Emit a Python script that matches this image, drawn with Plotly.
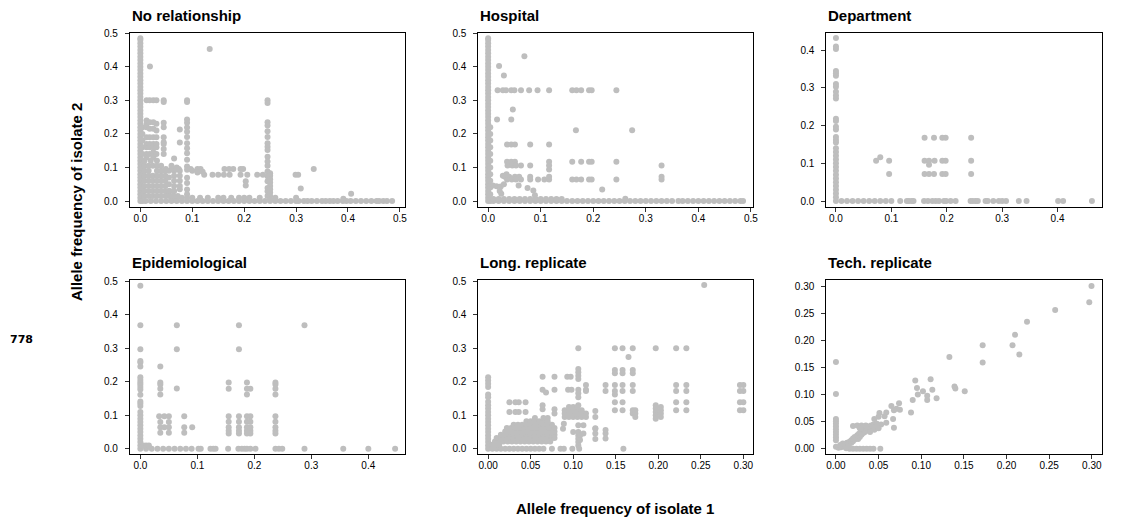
import plotly.graph_objects as go

# ---------------- data ----------------
# Each panel: columns (x, [y...]), rows (y, [x...]) and single points (x, y)

nr_cols = [
    (0.0, [0.0, 0.01, 0.02, 0.03, 0.04, 0.05, 0.06, 0.07, 0.08, 0.09, 0.10, 0.11, 0.12, 0.13, 0.14, 0.15,
           0.16, 0.17, 0.18, 0.19, 0.20, 0.21, 0.22, 0.23, 0.24, 0.25, 0.26, 0.27, 0.28, 0.29, 0.30, 0.31,
           0.32, 0.33, 0.34, 0.35, 0.36, 0.37, 0.38, 0.39, 0.40, 0.41, 0.42, 0.43, 0.44, 0.45, 0.46, 0.47,
           0.48, 0.485]),
    (0.004, [0.0, 0.02, 0.04, 0.06, 0.08, 0.10, 0.12, 0.14, 0.16, 0.18, 0.20, 0.22]),
    (0.012, [0.30, 0.24, 0.23, 0.22, 0.19, 0.17, 0.16, 0.14, 0.13]),
    (0.018, [0.30, 0.235, 0.215, 0.19, 0.17, 0.16, 0.14]),
    (0.025, [0.30, 0.235, 0.215, 0.19, 0.17, 0.16, 0.145, 0.13]),
    (0.031, [0.30, 0.23, 0.21, 0.19, 0.17, 0.16, 0.14]),
    (0.045, [0.30, 0.295, 0.233, 0.22, 0.19, 0.175, 0.17, 0.155, 0.14]),
    (0.055, [0.09, 0.07, 0.05, 0.03, 0.02]),
    (0.065, [0.127, 0.09, 0.075, 0.06, 0.045, 0.03]),
    (0.076, [0.213, 0.174, 0.09, 0.075, 0.06, 0.045, 0.035]),
    (0.09, [0.30, 0.295, 0.243, 0.233, 0.219, 0.206, 0.191, 0.172, 0.157, 0.142, 0.123, 0.103, 0.093,
            0.069, 0.054, 0.034, 0.02]),
    (0.203, [0.059, 0.046]),
    (0.245, [0.30, 0.292, 0.235, 0.225, 0.208, 0.191, 0.172, 0.162, 0.152, 0.132, 0.118, 0.105, 0.088,
             0.074, 0.059, 0.039, 0.029, 0.015]),
    (0.25, [0.083, 0.075, 0.065, 0.055, 0.045, 0.035, 0.025, 0.015, 0.005]),
]
nr_rows = [
    (0.0, [0.01, 0.02, 0.03, 0.04, 0.05, 0.06, 0.07, 0.08, 0.09, 0.10, 0.11, 0.12, 0.13, 0.14, 0.15, 0.16,
           0.17, 0.18, 0.19, 0.20, 0.21, 0.22, 0.23, 0.24, 0.25, 0.26, 0.27, 0.28, 0.29, 0.30, 0.305, 0.315,
           0.322, 0.33, 0.34, 0.35, 0.357, 0.365, 0.372, 0.38, 0.39, 0.397, 0.405, 0.415, 0.425, 0.435,
           0.445, 0.455, 0.46, 0.468, 0.475, 0.485]),
    (0.01, [0.06, 0.07, 0.08, 0.09, 0.10, 0.115, 0.13, 0.15, 0.16, 0.175, 0.19, 0.20, 0.21, 0.23, 0.26, 0.30]),
    (0.015, [0.008, 0.016, 0.024, 0.032, 0.040, 0.048, 0.056, 0.064, 0.072]),
    (0.03, [0.008, 0.016, 0.024, 0.032, 0.040, 0.048, 0.056, 0.064]),
    (0.045, [0.008, 0.016, 0.024, 0.032, 0.040, 0.048]),
    (0.06, [0.008, 0.016, 0.024, 0.032, 0.040, 0.048]),
    (0.075, [0.008, 0.016, 0.024, 0.032, 0.040, 0.048]),
    (0.09, [0.008, 0.016, 0.032, 0.040, 0.048]),
    (0.105, [0.008, 0.016, 0.024, 0.032, 0.040]),
    (0.12, [0.008, 0.020, 0.032]),
    (0.095, [0.049, 0.062, 0.074, 0.097, 0.110, 0.116, 0.162, 0.171, 0.179, 0.193, 0.198, 0.334]),
    (0.078, [0.123, 0.139, 0.150, 0.161, 0.172, 0.193, 0.206, 0.225, 0.236, 0.299, 0.304]),
]
nr_pts = [(0.1336, 0.453), (0.0185, 0.401), (0.309, 0.037), (0.406, 0.022), (0.391, 0.007),
          (0.06, 0.105), (0.07, 0.10), (0.10, 0.09), (0.11, 0.085), (0.12, 0.087)]

hosp_cols = [
    (0.0, [0.0, 0.01, 0.02, 0.03, 0.04, 0.05, 0.06, 0.07, 0.08, 0.09, 0.10, 0.11, 0.12, 0.13, 0.14, 0.15,
           0.16, 0.17, 0.18, 0.19, 0.20, 0.21, 0.22, 0.23, 0.24, 0.25, 0.26, 0.27, 0.28, 0.29, 0.30, 0.31,
           0.32, 0.33, 0.34, 0.35, 0.36, 0.37, 0.38, 0.39, 0.40, 0.41, 0.42, 0.43, 0.44, 0.45, 0.46, 0.47,
           0.48, 0.485]),
    (0.004, [0.0, 0.02, 0.04, 0.06, 0.08, 0.10, 0.12, 0.14, 0.16, 0.18, 0.20, 0.22]),
]
hosp_rows = [
    (0.0, [0.01, 0.02, 0.03, 0.04, 0.05, 0.06, 0.07, 0.08, 0.09, 0.10, 0.11, 0.12, 0.13, 0.14, 0.15, 0.16,
           0.17, 0.18, 0.19, 0.20, 0.21, 0.22, 0.23, 0.24, 0.25, 0.26, 0.27, 0.28, 0.29, 0.30, 0.31, 0.32,
           0.33, 0.34, 0.35, 0.362, 0.37, 0.38, 0.39, 0.40, 0.41, 0.42, 0.43, 0.44, 0.45, 0.46, 0.47,
           0.48, 0.485]),
    (0.006, [0.01, 0.02, 0.03, 0.04, 0.05, 0.06, 0.07, 0.08, 0.09, 0.10, 0.11, 0.12, 0.13, 0.14]),
    (0.33, [0.018, 0.028, 0.034, 0.044, 0.050, 0.0625, 0.078, 0.094, 0.116, 0.160, 0.168, 0.177, 0.192,
            0.197, 0.244]),
    (0.168, [0.036, 0.044, 0.051, 0.080, 0.116]),
    (0.117, [0.036, 0.044, 0.051, 0.116, 0.160, 0.177, 0.192, 0.197, 0.244]),
    (0.106, [0.037, 0.046, 0.053, 0.0625, 0.080, 0.116, 0.330]),
    (0.072, [0.032, 0.040, 0.051, 0.059, 0.080, 0.116, 0.330]),
    (0.064, [0.036, 0.045, 0.053, 0.0625, 0.080, 0.095, 0.107, 0.116, 0.160, 0.168, 0.177, 0.192, 0.197,
             0.244, 0.330]),
]
hosp_pts = [(0.069, 0.431), (0.0208, 0.402), (0.030, 0.374), (0.047, 0.273), (0.017, 0.243),
            (0.044, 0.243), (0.167, 0.211), (0.274, 0.211), (0.116, 0.094), (0.058, 0.046), (0.075, 0.039),
            (0.086, 0.031), (0.217, 0.034), (0.009, 0.046), (0.016, 0.044), (0.024, 0.043), (0.022, 0.03),
            (0.025, 0.022), (0.089, 0.017), (0.261, 0.007), (0.03, 0.05), (0.028, 0.075), (0.035, 0.08)]

dept_cols = [
    (0.0, [0.0, 0.01, 0.02, 0.03, 0.04, 0.05, 0.06, 0.07, 0.08, 0.09, 0.10, 0.11, 0.12, 0.13, 0.14, 0.155,
           0.162, 0.17, 0.19, 0.197, 0.212, 0.218, 0.272, 0.28, 0.29, 0.303, 0.31, 0.332, 0.339, 0.345,
           0.403, 0.41, 0.432]),
]
dept_rows = [
    (0.0, [0.01, 0.02, 0.03, 0.04, 0.05, 0.06, 0.07, 0.08, 0.09, 0.10, 0.116, 0.128, 0.132, 0.137, 0.140,
           0.159, 0.166, 0.174, 0.180, 0.186, 0.195, 0.199, 0.207, 0.216, 0.243, 0.247, 0.252, 0.256,
           0.270, 0.274, 0.284, 0.294, 0.300, 0.307, 0.330, 0.344, 0.401, 0.410, 0.462]),
    (0.168, [0.160, 0.177, 0.192, 0.198, 0.244]),
    (0.107, [0.0725, 0.096, 0.160, 0.168, 0.178, 0.192, 0.198, 0.244]),
    (0.072, [0.096, 0.160, 0.168, 0.177, 0.192, 0.198, 0.244]),
]
dept_pts = [(0.080, 0.116), (0.168, 0.096)]

epi_cols = [
    (0.0, [0.0, 0.01, 0.02, 0.03, 0.04, 0.05, 0.06, 0.07, 0.08, 0.09, 0.10, 0.11, 0.128, 0.135, 0.141,
           0.161, 0.177, 0.184, 0.192, 0.198, 0.205, 0.213, 0.245, 0.257, 0.262, 0.297, 0.368, 0.486]),
    (0.035, [0.245, 0.198, 0.192, 0.179, 0.162]),
    (0.155, [0.198, 0.179, 0.097, 0.081, 0.064, 0.054, 0.046]),
    (0.173, [0.368, 0.297, 0.097, 0.081, 0.064, 0.054, 0.046]),
    (0.187, [0.198, 0.179, 0.162, 0.097, 0.081, 0.064, 0.054, 0.046]),
    (0.193, [0.179, 0.097, 0.081, 0.064, 0.054, 0.046]),
    (0.237, [0.198, 0.192, 0.179, 0.162, 0.097, 0.081, 0.064, 0.054, 0.046]),
]
epi_rows = [
    (0.0, [0.01, 0.02, 0.03, 0.04, 0.05, 0.06, 0.07, 0.08, 0.09, 0.102, 0.106, 0.123, 0.128, 0.132, 0.154,
           0.172, 0.178, 0.183, 0.187, 0.193, 0.202, 0.237, 0.243, 0.249, 0.288, 0.356, 0.40, 0.447]),
    (0.01, [0.005, 0.01, 0.015]),
    (0.097, [0.033, 0.042, 0.05, 0.077]),
    (0.08, [0.035, 0.05]),
    (0.064, [0.035, 0.042, 0.05, 0.077, 0.091]),
    (0.048, [0.035, 0.05, 0.077]),
]
epi_pts = [(0.064, 0.368), (0.288, 0.368), (0.064, 0.297), (0.064, 0.18)]

long_cols = [
    (0.0, [0.0, 0.01, 0.02, 0.03, 0.04, 0.05, 0.06, 0.07, 0.08, 0.09, 0.10, 0.11, 0.12, 0.13, 0.14, 0.154,
           0.162, 0.184, 0.194, 0.204, 0.213]),
    (0.106, [0.30, 0.238, 0.228, 0.218, 0.208, 0.176, 0.166, 0.154, 0.13, 0.07, 0.05, 0.04, 0.03, 0.02, 0.01]),
    (0.126, [0.113, 0.095, 0.061, 0.046, 0.029]),
    (0.138, [0.19, 0.172, 0.046, 0.031]),
    (0.149, [0.30, 0.235, 0.225, 0.19, 0.172, 0.162, 0.139, 0.115]),
    (0.158, [0.30, 0.235, 0.225, 0.19, 0.172, 0.139, 0.115]),
    (0.170, [0.30, 0.235, 0.225, 0.19, 0.172, 0.115, 0.105]),
    (0.173, [0.115, 0.105, 0.095]),
    (0.197, [0.30, 0.13, 0.12, 0.11, 0.10, 0.09]),
    (0.203, [0.125, 0.115, 0.105, 0.095]),
    (0.221, [0.30, 0.19, 0.172, 0.139, 0.115]),
    (0.233, [0.30, 0.19, 0.172, 0.139, 0.115]),
    (0.296, [0.19, 0.172, 0.139, 0.115]),
    (0.30, [0.19, 0.172, 0.139, 0.115]),
]
long_rows = [
    (0.0, [0.005, 0.01, 0.015, 0.02, 0.025, 0.03, 0.035, 0.04, 0.045, 0.05, 0.055, 0.06, 0.065, 0.075,
           0.085, 0.089, 0.099, 0.107, 0.159]),
    (0.012, [0.005, 0.009, 0.013]),
    (0.022, [0.008, 0.013, 0.018, 0.023, 0.028, 0.033, 0.038, 0.043, 0.048, 0.053, 0.058, 0.063, 0.068,
             0.073]),
    (0.032, [0.010, 0.015, 0.020, 0.025, 0.030, 0.035, 0.040, 0.045, 0.050, 0.055, 0.060, 0.065, 0.070,
             0.075, 0.078]),
    (0.042, [0.015, 0.020, 0.025, 0.030, 0.035, 0.040, 0.045, 0.050, 0.055, 0.060, 0.065, 0.070, 0.075,
             0.078]),
    (0.052, [0.020, 0.025, 0.030, 0.035, 0.040, 0.045, 0.050, 0.055, 0.060, 0.065, 0.070, 0.075, 0.078]),
    (0.062, [0.022, 0.027, 0.032, 0.037, 0.042, 0.047, 0.052, 0.057, 0.062, 0.067, 0.072, 0.078]),
    (0.072, [0.030, 0.035, 0.040, 0.045, 0.050, 0.055, 0.060, 0.065, 0.070, 0.075]),
    (0.082, [0.045, 0.050, 0.055, 0.060, 0.065, 0.070]),
    (0.092, [0.055, 0.065, 0.070]),
    (0.095, [0.09, 0.095, 0.10, 0.105, 0.11, 0.115]),
    (0.105, [0.09, 0.095, 0.10, 0.105, 0.11, 0.115]),
    (0.115, [0.09, 0.095, 0.10, 0.105, 0.11]),
    (0.125, [0.095, 0.10, 0.105]),
    (0.139, [0.025, 0.032, 0.036, 0.044]),
    (0.11, [0.025, 0.032, 0.036, 0.044]),
    (0.215, [0.064, 0.078, 0.093, 0.097]),
    (0.176, [0.064, 0.078, 0.094, 0.098, 0.115]),
    (0.19, [0.115]),
    (0.172, [0.115]),
]
long_pts = [(0.254, 0.488), (0.165, 0.274), (0.068, 0.168), (0.064, 0.13), (0.064, 0.118), (0.078, 0.118),
            (0.078, 0.105), (0.089, 0.075), (0.088, 0.06), (0.10, 0.05), (0.108, 0.04), (0.108, 0.026),
            (0.126, 0.06), (0.138, 0.056), (0.112, 0.07), (0.112, 0.046)]

tech_cols = [(0.0, [0.004, 0.016, 0.021, 0.026, 0.031, 0.036, 0.041, 0.046, 0.051, 0.055, 0.101, 0.16])]
tech_rows = [(0.0, [0.016, 0.02, 0.024, 0.028, 0.032, 0.036, 0.040, 0.044, 0.052])]
tech_pts = [(0.2996, 0.30), (0.297, 0.27), (0.257, 0.256), (0.224, 0.234), (0.21, 0.21), (0.207, 0.191),
            (0.215, 0.174), (0.172, 0.191), (0.172, 0.159), (0.133, 0.169), (0.151, 0.106), (0.139, 0.115),
            (0.140, 0.111), (0.111, 0.128), (0.113, 0.109), (0.107, 0.098), (0.107, 0.090), (0.118, 0.093),
            (0.093, 0.126), (0.095, 0.112), (0.096, 0.10), (0.102, 0.106), (0.090, 0.09), (0.088, 0.067),
            (0.075, 0.072), (0.074, 0.084), (0.071, 0.074), (0.068, 0.071), (0.065, 0.079), (0.067, 0.055),
            (0.059, 0.067), (0.057, 0.06), (0.051, 0.066), (0.050, 0.059), (0.059, 0.048), (0.068, 0.039),
            (0.053, 0.045), (0.045, 0.055),
            (0.003, 0.002), (0.006, 0.003), (0.008, 0.005), (0.01, 0.004), (0.01, 0.008), (0.012, 0.006),
            (0.013, 0.011), (0.015, 0.009), (0.016, 0.013), (0.018, 0.011), (0.018, 0.016), (0.02, 0.014),
            (0.02, 0.019), (0.022, 0.017), (0.022, 0.022), (0.024, 0.02), (0.025, 0.025), (0.026, 0.018),
            (0.027, 0.028), (0.028, 0.022), (0.029, 0.031), (0.03, 0.026), (0.031, 0.034), (0.032, 0.029),
            (0.033, 0.036), (0.034, 0.031), (0.035, 0.038), (0.036, 0.034), (0.037, 0.041), (0.038, 0.036),
            (0.04, 0.039), (0.041, 0.043), (0.043, 0.041), (0.044, 0.045), (0.046, 0.043), (0.048, 0.046),
            (0.02, 0.042), (0.025, 0.043), (0.03, 0.043), (0.035, 0.043), (0.028, 0.038), (0.012, 0.001),
            (0.015, 0.004), (0.008, 0.01), (0.005, 0.007), (0.04, 0.031), (0.045, 0.035), (0.05, 0.038)]

titles = ["No relationship", "Hospital", "Department", "Epidemiological", "Long. replicate", "Tech. replicate"]

ticks_05 = [0.0, 0.1, 0.2, 0.3, 0.4, 0.5]
ticks_04 = [0.0, 0.1, 0.2, 0.3, 0.4]
ticks_03 = [0.0, 0.05, 0.10, 0.15, 0.20, 0.25, 0.30]

# ---------------- layout geometry ----------------
W, H = 1121, 520
col_px = [(130.5, 406.5), (480.5, 756.5), (830.0, 1106.5)]
row_px = [(28.0, 204.0), (278.0, 454.0)]

panels = [
    dict(data=(nr_cols, nr_rows, nr_pts), xr=[-0.0201, 0.5092], yr=[-0.0168, 0.5015],
         xt=ticks_05, yt=ticks_05, xf=".1f", yf=".1f"),
    dict(data=(hosp_cols, hosp_rows, hosp_pts), xr=[-0.0186, 0.5042], yr=[-0.0168, 0.5015],
         xt=ticks_05, yt=ticks_05, xf=".1f", yf=".1f"),
    dict(data=(dept_cols, dept_rows, dept_pts), xr=[-0.0174, 0.4794], yr=[-0.0149, 0.4464],
         xt=ticks_04, yt=ticks_04, xf=".1f", yf=".1f"),
    dict(data=(epi_cols, epi_rows, epi_pts), xr=[-0.0183, 0.4638], yr=[-0.0147, 0.5038],
         xt=ticks_04, yt=ticks_05, xf=".1f", yf=".1f"),
    dict(data=(long_cols, long_rows, long_pts), xr=[-0.0115, 0.3115], yr=[-0.0147, 0.5038],
         xt=ticks_03, yt=ticks_05, xf=".2f", yf=".1f"),
    dict(data=(tech_cols, tech_rows, tech_pts), xr=[-0.0113, 0.3114], yr=[-0.0091, 0.3115],
         xt=ticks_03, yt=ticks_03, xf=".2f", yf=".2f"),
]

FONT = "Liberation Sans, Arial, Helvetica, sans-serif"
fig = go.Figure()
annotations = []

for i, p in enumerate(panels):
    r, c = divmod(i, 3)
    cols, rows, pts = p["data"]
    xs, ys = [], []
    for x, yl in cols:
        for y in yl:
            xs.append(x); ys.append(y)
    for y, xl in rows:
        for x in xl:
            xs.append(x); ys.append(y)
    for x, y in pts:
        xs.append(x); ys.append(y)
    n = "" if i == 0 else str(i + 1)
    fig.add_trace(go.Scatter(x=xs, y=ys, mode="markers", xaxis="x" + n, yaxis="y" + n,
                             marker=dict(size=6, color="#BEBEBE", line=dict(width=0)),
                             showlegend=False, hoverinfo="x+y"))
    x0, x1 = col_px[c]
    yt0, yb0 = row_px[r]
    common = dict(showline=True, mirror=True, linecolor="black", linewidth=1, showgrid=False,
                  zeroline=False, ticks="outside", ticklen=4, tickwidth=1, tickcolor="#333",
                  tickfont=dict(family=FONT, size=10, color="black"))
    fig.layout["xaxis" + n] = dict(domain=[x0 / W, x1 / W], range=p["xr"], anchor="y" + n,
                                   tickvals=p["xt"], tickformat=p["xf"], ticklabelstandoff=-2, **common)
    fig.layout["yaxis" + n] = dict(domain=[1 - yb0 / H, 1 - yt0 / H], range=p["yr"], anchor="x" + n,
                                   tickvals=p["yt"], tickformat=p["yf"], ticklabelstandoff=5, **common)
    annotations.append(dict(text="<b>" + titles[i] + "</b>", xref="paper", yref="paper",
                            x=x0 / W, y=1 - (yt0 - 17) / H, xanchor="left", yanchor="middle",
                            showarrow=False, font=dict(family=FONT, size=15, color="black")))

annotations.append(dict(text="<b>Allele frequency of isolate 1</b>", xref="paper", yref="paper",
                        x=617.5 / W, y=1 - 509 / H, xanchor="center", yanchor="middle", showarrow=False,
                        font=dict(family=FONT, size=15, color="black")))
annotations.append(dict(text="<b>Allele frequency of isolate 2</b>", xref="paper", yref="paper",
                        x=76.7 / W, y=1 - 199 / H, xanchor="center", yanchor="middle", showarrow=False,
                        textangle=-90, font=dict(family=FONT, size=15, color="black")))
annotations.append(dict(text="<b>778</b>", xref="paper", yref="paper",
                        x=21.7 / W, y=1 - 338 / H, xanchor="center", yanchor="middle", showarrow=False,
                        font=dict(family="DejaVu Sans, sans-serif", size=11, color="black")))

fig.update_layout(width=W, height=H, margin=dict(l=0, r=0, t=0, b=0), paper_bgcolor="white",
                  plot_bgcolor="white", annotations=annotations)

fig.write_html("out.html")
